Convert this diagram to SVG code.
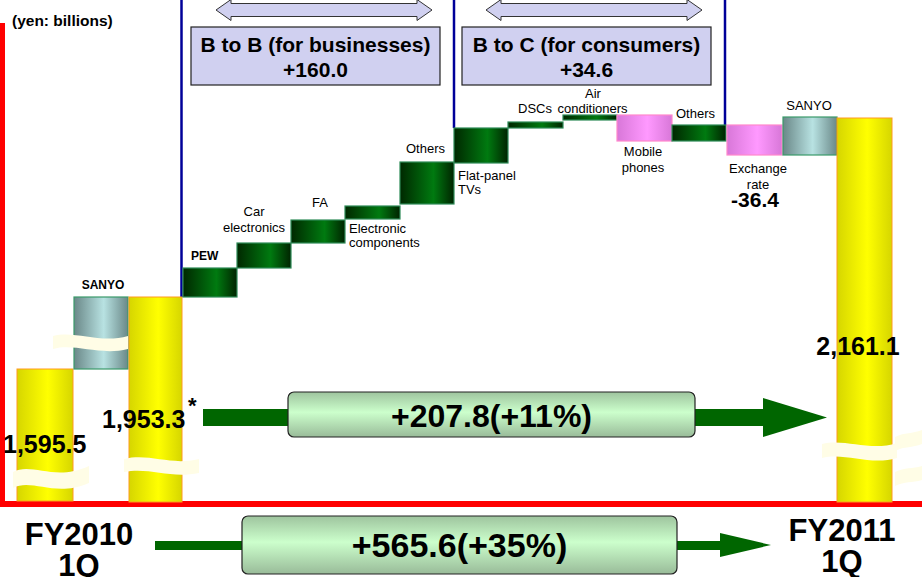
<svg xmlns="http://www.w3.org/2000/svg" width="922" height="577" viewBox="0 0 922 577">
<defs>
<linearGradient id="gY" x1="0" y1="0" x2="1" y2="0">
<stop offset="0" stop-color="#d6d600"/><stop offset="0.55" stop-color="#ffff00"/><stop offset="1" stop-color="#d6d600"/>
</linearGradient>
<linearGradient id="gG" x1="0" y1="0" x2="1" y2="0">
<stop offset="0" stop-color="#002800"/><stop offset="0.62" stop-color="#007a10"/><stop offset="1" stop-color="#002400"/>
</linearGradient>
<linearGradient id="gP" x1="0" y1="0" x2="1" y2="0">
<stop offset="0" stop-color="#d877d8"/><stop offset="0.55" stop-color="#ff99ff"/><stop offset="1" stop-color="#d877d8"/>
</linearGradient>
<linearGradient id="gS" x1="0" y1="0" x2="1" y2="0">
<stop offset="0" stop-color="#6a8888"/><stop offset="0.55" stop-color="#b8e2e2"/><stop offset="1" stop-color="#6a8888"/>
</linearGradient>
<linearGradient id="gB" x1="0" y1="0" x2="0" y2="1">
<stop offset="0" stop-color="#9ec49e"/><stop offset="0.45" stop-color="#ccffcc"/><stop offset="1" stop-color="#99bb99"/>
</linearGradient>
<style>
text{font-family:"Liberation Sans",Arial,sans-serif;fill:#000}
.b{font-weight:bold}
.lbl{font-size:13px}
.mid{text-anchor:middle}
.yel{fill:url(#gY);stroke:#ff9a20;stroke-width:1}
.grn{fill:url(#gG);stroke:#2e8b57;stroke-width:1.2}
.pnk{fill:url(#gP);stroke:#ff88cc;stroke-width:1.2}
.sny{fill:url(#gS);stroke:#3a9a6a;stroke-width:1.2}
.lav{fill:#d0d0f0;stroke:#222;stroke-width:1.2}
.dbl{fill:#d0d0f0;stroke:#333;stroke-width:1}
.brk{fill:#fffde6;stroke:none}
.arr{fill:#006600}
.gbox{fill:url(#gB);stroke:#222;stroke-width:1.2}
.blue{stroke:#000099;stroke-width:2.5;fill:none}
.val{font-size:25px;font-weight:bold}
.fy{font-size:31px;font-weight:bold}
</style>
</defs>

<!-- axes -->
<g id="axes">
<rect x="0" y="23" width="5" height="484" fill="#ff0000"/>
<rect x="3" y="501" width="919" height="6" fill="#ff0000"/>
<text x="12" y="26" class="b" style="font-size:15.5px">(yen: billions)</text>
</g>

<!-- connectors / guides -->
<g id="connectors">
<line class="blue" x1="181.5" y1="0" x2="181.5" y2="297"/>
<line class="blue" x1="454" y1="0" x2="454" y2="128"/>
<line class="blue" x1="725" y1="0" x2="725" y2="126"/>
<rect class="arr" x="203" y="409" width="565" height="17"/>
<polygon class="arr" points="763,398 827,417.5 763,437"/>
<rect class="arr" x="155" y="541" width="568" height="9"/>
<polygon class="arr" points="720,533 771,545 720,557"/>
<polygon class="dbl" points="216,10 231,-0.5 231,3.5 417,3.5 417,-0.5 432,10 417,20.5 417,16.5 231,16.5 231,20.5"/>
<polygon class="dbl" points="486,10 501,-0.5 501,3.5 687,3.5 687,-0.5 702,10 687,20.5 687,16.5 501,16.5 501,20.5"/>
</g>

<g id="b2b">
<rect class="lav" x="191" y="27" width="249" height="58"/>
<text x="315.5" y="52" class="b mid" style="font-size:21px">B to B (for businesses)</text>
<text x="315.5" y="77" class="b mid" style="font-size:21px">+160.0</text>
</g>
<g id="b2c">
<rect class="lav" x="462" y="27" width="249" height="58"/>
<text x="586.5" y="52" class="b mid" style="font-size:21px">B to C (for consumers)</text>
<text x="586.5" y="77" class="b mid" style="font-size:21px">+34.6</text>
</g>

<!-- left bars -->
<g id="fy2010-bar">
<rect class="yel" x="17" y="369" width="56" height="132"/>
<path class="brk" d="M13,472 C32,462 55,482 89,466 L89,483 C55,498 32,478 13,488 Z"/>
<text x="3" y="453" class="val">1,595.5</text>
</g>
<g id="sanyo-left">
<rect class="sny" x="74" y="297" width="54" height="72"/>
<path class="brk" d="M53,336 C75,330 100,344 128,336 L128,349 C100,356 75,343 53,349 Z"/>
<text x="103" y="289" class="b mid" style="font-size:12px">SANYO</text>
</g>
<g id="base-bar">
<rect class="yel" x="129" y="297" width="53" height="205"/>
<path class="brk" d="M124,459 C150,453 170,466 199,459 L199,473 C170,479 150,467 124,472 Z"/>
<text x="102" y="428" class="val">1,953.3</text>
<text x="188" y="413" class="b" style="font-size:22px">*</text>
</g>

<!-- B to B steps -->
<g id="pew">
<rect class="grn" x="183" y="268" width="54" height="29"/>
<text x="191" y="260" class="b" style="font-size:12px">PEW</text>
</g>
<g id="car">
<rect class="grn" x="237" y="243" width="54" height="25"/>
<text x="254" y="216" class="lbl mid">Car</text>
<text x="254" y="232" class="lbl mid">electronics</text>
</g>
<g id="fa">
<rect class="grn" x="291" y="220" width="54" height="23"/>
<text x="320" y="207" class="lbl mid">FA</text>
</g>
<g id="ecomp">
<rect class="grn" x="345" y="206" width="55" height="13"/>
<text x="349" y="233" class="lbl">Electronic</text>
<text x="349" y="247" class="lbl">components</text>
</g>
<g id="others-b2b">
<rect class="grn" x="400" y="162" width="54" height="42"/>
<text x="425.5" y="153" class="lbl mid">Others</text>
</g>

<!-- B to C steps -->
<g id="tv">
<rect class="grn" x="454" y="128" width="54" height="35"/>
<text x="458" y="180" class="lbl">Flat-panel</text>
<text x="458" y="194" class="lbl">TVs</text>
</g>
<g id="dsc">
<rect class="grn" x="508" y="122" width="55" height="6"/>
<text x="518" y="113" class="lbl">DSCs</text>
</g>
<g id="aircon">
<rect class="grn" x="563" y="115" width="54" height="5"/>
<text x="593" y="98" class="lbl mid">Air</text>
<text x="592.5" y="113" class="lbl mid">conditioners</text>
</g>
<g id="mobile">
<rect class="pnk" x="617" y="115" width="55" height="26"/>
<text x="643" y="156" class="lbl mid">Mobile</text>
<text x="643" y="172" class="lbl mid">phones</text>
</g>
<g id="others-b2c">
<rect class="grn" x="672" y="125" width="54" height="16"/>
<text x="695.5" y="118" class="lbl mid">Others</text>
</g>
<g id="exchange">
<rect class="pnk" x="727" y="125" width="55" height="30"/>
<text x="758" y="173" class="lbl mid">Exchange</text>
<text x="758" y="189" class="lbl mid">rate</text>
<text x="755" y="207" class="b mid" style="font-size:21px">-36.4</text>
</g>
<g id="sanyo-right">
<rect class="sny" x="783" y="117" width="54" height="38"/>
<text x="809" y="110" class="lbl mid">SANYO</text>
</g>
<g id="fy2011-bar">
<rect class="yel" x="837" y="118" width="55" height="384"/>
<path class="brk" d="M822,444 C845,438 870,452 897,443 L897,458 C870,466 845,452 822,458 Z"/>
<path class="brk" d="M895,437 C905,432 912,434 922,430 L922,444 C912,448 905,446 895,451 Z"/>
<path class="brk" d="M895,472 C905,467 912,469 922,466 L922,480 C912,483 905,481 895,486 Z"/>
<text x="858" y="355" class="val mid">2,161.1</text>
</g>

<!-- change boxes -->
<g id="change-1q">
<rect class="gbox" x="288" y="392" width="407" height="45" rx="6"/>
<text x="491.5" y="427" class="b mid" style="font-size:32px">+207.8(+11%)</text>
</g>
<g id="change-total">
<rect class="gbox" x="242" y="516" width="435" height="58" rx="6"/>
<text x="459.5" y="557" class="b mid" style="font-size:34px">+565.6(+35%)</text>
</g>

<g id="fy-labels">
<text x="79" y="545" class="fy mid">FY2010</text>
<text x="79" y="576" class="fy mid">1Q</text>
<text x="842" y="541" class="fy mid">FY2011</text>
<text x="842" y="572" class="fy mid">1Q</text>
</g>
</svg>
